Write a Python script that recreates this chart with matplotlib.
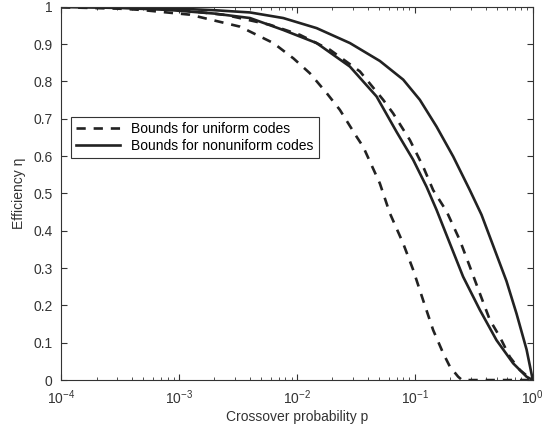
import numpy as np
import matplotlib
matplotlib.use("Agg")
import matplotlib.pyplot as plt

# values, as log10(p) and efficiency
# bounds for uniform codes (dashed)
logp_u1 = [-4.0, -3.5, -3.33, -2.907, -2.483, -2.2, -2.03, -1.89, -1.748, -1.636,
           -1.494, -1.438, -1.297, -1.212, -1.099, -1.014, -0.93, -0.845, -0.76,
           -0.703, -0.633, -0.6, -0.4, -0.2, 0.0]
eta_u1 = [0.999, 0.995, 0.992, 0.979, 0.947, 0.903, 0.862, 0.822, 0.769, 0.724,
          0.652, 0.625, 0.527, 0.447, 0.366, 0.295, 0.214, 0.134, 0.072,
          0.036, 0.009, 0.0, 0.0, 0.0, 0.0]

logp_u2 = [-4.0, -3.5, -3.0, -2.6, -2.229, -1.975, -1.72, -1.466, -1.269, -1.185,
           -1.042, -0.93, -0.845, -0.731, -0.619, -0.534, -0.449, -0.364, -0.28,
           -0.195, -0.11, -0.025, 0.0]
eta_u2 = [1.0, 0.998, 0.992, 0.978, 0.952, 0.925, 0.885, 0.827, 0.751, 0.715,
          0.643, 0.572, 0.509, 0.452, 0.375, 0.304, 0.232, 0.161, 0.116,
          0.062, 0.027, 0.005, 0.0]

# bounds for nonuniform codes (solid)
logp_n1 = [-4.0, -3.5, -3.1, -2.7, -2.398, -2.116, -1.833, -1.551, -1.325, -1.155,
           -1.014, -0.901, -0.816, -0.703, -0.591, -0.449, -0.308, -0.167, -0.053, 0.0]
eta_n1 = [1.0, 0.997, 0.992, 0.982, 0.970, 0.938, 0.903, 0.84, 0.76, 0.665,
          0.59, 0.518, 0.456, 0.366, 0.277, 0.188, 0.107, 0.045, 0.009, 0.0]

logp_n2 = [-4.0, -3.5, -3.0, -2.7, -2.398, -2.116, -1.833, -1.551, -1.297, -1.099,
           -0.958, -0.816, -0.675, -0.534, -0.435, -0.336, -0.223, -0.138, -0.053, 0.0]
eta_n2 = [1.0, 0.999, 0.995, 0.991, 0.985, 0.970, 0.943, 0.903, 0.855, 0.805,
          0.751, 0.679, 0.599, 0.509, 0.443, 0.36, 0.265, 0.178, 0.082, 0.0]

plt.rcParams['font.family'] = ['Liberation Sans', 'DejaVu Sans']
plt.rcParams['mathtext.fontset'] = 'custom'
plt.rcParams['mathtext.rm'] = 'Liberation Sans'
plt.rcParams['mathtext.it'] = 'Liberation Sans:italic'
plt.rcParams['mathtext.default'] = 'regular'
plt.rcParams['font.size'] = 10
plt.rcParams["xtick.direction"] = "in"
plt.rcParams["ytick.direction"] = "in"

fig = plt.figure(figsize=(5.55, 4.28), dpi=100)
ax = fig.add_axes([0.110, 0.112, 0.850, 0.872])

lw = 1.9
col = "#222222"
ax.plot(10 ** np.array(logp_u1), eta_u1, color=col, linestyle="--", dashes=(3.5, 3), lw=lw,
        label="Bounds for uniform codes")
ax.plot(10 ** np.array(logp_u2), eta_u2, color=col, linestyle="--", dashes=(3.5, 3), lw=lw)
ax.plot(10 ** np.array(logp_n1), eta_n1, color=col, linestyle="-", lw=lw,
        label="Bounds for nonuniform codes")
ax.plot(10 ** np.array(logp_n2), eta_n2, color=col, linestyle="-", lw=lw)

ax.set_xscale("log")
ax.set_xlim(1e-4, 1)
ax.set_ylim(0, 1)
ax.set_yticks(np.arange(0, 1.01, 0.1))
ax.set_yticklabels(["0", "0.1", "0.2", "0.3", "0.4", "0.5", "0.6", "0.7", "0.8", "0.9", "1"])
ax.tick_params(which="both", top=True, right=True, colors="#333333", labelcolor="#333333")
ax.tick_params(which="major", length=4)
ax.tick_params(which="minor", length=2)
ax.tick_params(axis="x", which="major", pad=6)
ax.tick_params(axis="y", which="major", pad=6)
for s in ax.spines.values():
    s.set_color("#333333")

ax.set_xlabel("Crossover probability p", color="#333333", labelpad=2)
ax.set_ylabel("Efficiency η", color="#333333", labelpad=5)

leg = ax.legend(loc="upper left", bbox_to_anchor=(0.021, 0.705), borderaxespad=0,
                fancybox=False, framealpha=1, edgecolor="#333333", handlelength=3.2,
                borderpad=0.35, labelspacing=0.25)
leg.get_frame().set_linewidth(0.8)

fig.savefig("out.png", dpi=100)
